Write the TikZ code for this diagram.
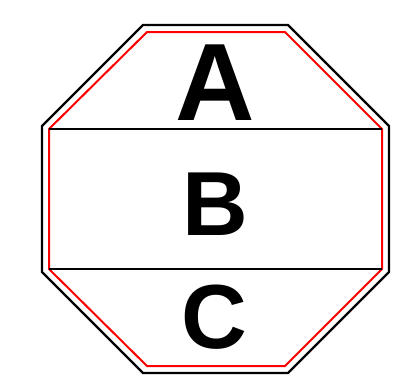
\documentclass[tikz,border=0pt]{standalone}
\usepackage{fontspec}
\setmainfont{Liberation Sans}
\begin{document}
\begin{tikzpicture}[x=1pt,y=-1pt,
  outerline/.style={draw=black,line width=2.2pt,line join=miter},
  redline/.style={draw=red,line width=2pt,line join=miter},
  divider/.style={draw=black,line width=2pt},
  bigletter/.style={inner sep=0pt,anchor=center,font=\bfseries\fontsize{#1}{#1}\selectfont}]
\useasboundingbox (0,0) rectangle (407,383);
\draw[outerline] (143,25) -- (288,25) -- (389,126) -- (389,272) -- (288,373) -- (143,373) -- (42,272) -- (42,126) -- cycle;
\draw[redline] (147,32) -- (285,32) -- (382,129) -- (382,269) -- (285,366) -- (147,366) -- (49,269) -- (49,129) -- cycle;
\coordinate (l1) at (49,129);
\coordinate (r1) at (382,129);
\coordinate (l2) at (49,269);
\coordinate (r2) at (382,269);
\draw[divider] (l1) -- (r1);
\draw[divider] (l2) -- (r2);
\node[bigletter=110] (A) at (215,82.5) {A};
\node[bigletter=91] (B) at (215.5,204.5) {B};
\node[bigletter=91] (C) at (214.5,317.5) {C};
\end{tikzpicture}
\end{document}
